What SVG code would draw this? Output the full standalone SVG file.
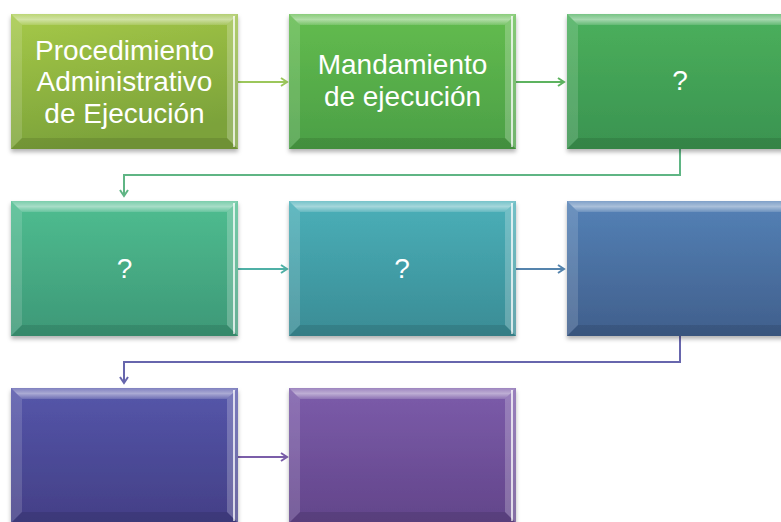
<svg xmlns="http://www.w3.org/2000/svg" width="781" height="522" viewBox="0 0 781 522">
<style>
.t{font-family:"Liberation Sans",Arial,sans-serif;font-size:28px;fill:#fff;text-anchor:middle}
.c{fill:none;stroke-width:2}
</style>
<defs>
<filter id="sh" x="-5%" y="-5%" width="110%" height="115%">
<feDropShadow dx="0" dy="3" stdDeviation="2" flood-color="#000" flood-opacity="0.3"/>
</filter>
<linearGradient id="g1" x1="0" y1="0" x2="0.3" y2="1"><stop offset="0" stop-color="#a6c948"/><stop offset="1" stop-color="#7ba23a"/></linearGradient>
<linearGradient id="g2" x1="0" y1="0" x2="0" y2="1"><stop offset="0" stop-color="#63bc4f"/><stop offset="1" stop-color="#4b9f45"/></linearGradient>
<linearGradient id="g3" x1="0" y1="0" x2="0" y2="1"><stop offset="0" stop-color="#4bb05c"/><stop offset="1" stop-color="#3a9350"/></linearGradient>
<linearGradient id="g4" x1="0" y1="0" x2="0" y2="1"><stop offset="0" stop-color="#4fbd90"/><stop offset="1" stop-color="#3d9877"/></linearGradient>
<linearGradient id="g5" x1="0" y1="0" x2="0" y2="1"><stop offset="0" stop-color="#4aafb8"/><stop offset="1" stop-color="#3a8c95"/></linearGradient>
<linearGradient id="g6" x1="0" y1="0" x2="0" y2="1"><stop offset="0" stop-color="#5481b6"/><stop offset="1" stop-color="#405f8c"/></linearGradient>
<linearGradient id="g7" x1="0" y1="0" x2="0" y2="1"><stop offset="0" stop-color="#5556aa"/><stop offset="1" stop-color="#433f86"/></linearGradient>
<linearGradient id="g8" x1="0" y1="0" x2="0" y2="1"><stop offset="0" stop-color="#7c5caa"/><stop offset="1" stop-color="#62458a"/></linearGradient>
<linearGradient id="bt" x1="0" y1="0" x2="0" y2="1"><stop offset="0" stop-color="#fff" stop-opacity="0.25"/><stop offset="0.5" stop-color="#fff" stop-opacity="0.5"/><stop offset="1" stop-color="#fff" stop-opacity="0.15"/></linearGradient>
<g id="bev">
<polygon points="0,0 227,0 216,11 11,11" fill="url(#bt)"/>
<polygon points="0,0 11,11 11,124 0,135" fill="#fff" fill-opacity="0.14"/>
<polygon points="227,0 227,135 216,124 216,11" fill="#fff" fill-opacity="0.22"/>
<rect x="222" y="2" width="2" height="131" fill="#fff" fill-opacity="0.75"/>
<polygon points="0,135 227,135 216,124 11,124" fill="#000" fill-opacity="0.1"/>
</g>
<marker id="m1" viewBox="0 0 10 10" refX="8" refY="5" markerWidth="10" markerHeight="10" markerUnits="userSpaceOnUse" orient="auto"><path d="M2,1 L8,5 L2,9" fill="none" stroke="#9cc75b" stroke-width="2"/></marker>
<marker id="m2" viewBox="0 0 10 10" refX="8" refY="5" markerWidth="10" markerHeight="10" markerUnits="userSpaceOnUse" orient="auto"><path d="M2,1 L8,5 L2,9" fill="none" stroke="#5db35f" stroke-width="2"/></marker>
<marker id="m3" viewBox="0 0 10 10" refX="8" refY="5" markerWidth="10" markerHeight="10" markerUnits="userSpaceOnUse" orient="auto"><path d="M2,1 L8,5 L2,9" fill="none" stroke="#5fb584" stroke-width="2"/></marker>
<marker id="m4" viewBox="0 0 10 10" refX="8" refY="5" markerWidth="10" markerHeight="10" markerUnits="userSpaceOnUse" orient="auto"><path d="M2,1 L8,5 L2,9" fill="none" stroke="#4fb0a6" stroke-width="2"/></marker>
<marker id="m5" viewBox="0 0 10 10" refX="8" refY="5" markerWidth="10" markerHeight="10" markerUnits="userSpaceOnUse" orient="auto"><path d="M2,1 L8,5 L2,9" fill="none" stroke="#5584ad" stroke-width="2"/></marker>
<marker id="m6" viewBox="0 0 10 10" refX="8" refY="5" markerWidth="10" markerHeight="10" markerUnits="userSpaceOnUse" orient="auto"><path d="M2,1 L8,5 L2,9" fill="none" stroke="#6766ad" stroke-width="2"/></marker>
<marker id="m7" viewBox="0 0 10 10" refX="8" refY="5" markerWidth="10" markerHeight="10" markerUnits="userSpaceOnUse" orient="auto"><path d="M2,1 L8,5 L2,9" fill="none" stroke="#7b5ea9" stroke-width="2"/></marker>
</defs>
<rect width="781" height="522" fill="#fff"/>
<g id="connectors">
<path class="c" d="M238,82 H287" stroke="#9cc75b" marker-end="url(#m1)"/>
<path class="c" d="M515,82 H564" stroke="#5db35f" marker-end="url(#m2)"/>
<path class="c" d="M680,149 V175 H124 V196" stroke="#5fb584" marker-end="url(#m3)"/>
<path class="c" d="M238,269 H287" stroke="#4fb0a6" marker-end="url(#m4)"/>
<path class="c" d="M515,269 H564" stroke="#5584ad" marker-end="url(#m5)"/>
<path class="c" d="M680,336 V362 H124 V383" stroke="#6766ad" marker-end="url(#m6)"/>
<path class="c" d="M238,457 H287" stroke="#7b5ea9" marker-end="url(#m7)"/>
</g>
<g id="n1" transform="translate(11,14)">
<rect width="227" height="135" fill="url(#g1)" filter="url(#sh)"/><use href="#bev"/>
<text class="t" x="113.5" y="45.5">Procedimiento</text>
<text class="t" x="113.5" y="77">Administrativo</text>
<text class="t" x="113.5" y="108.5">de Ejecución</text>
</g>
<g id="n2" transform="translate(289,14)">
<rect width="227" height="135" fill="url(#g2)" filter="url(#sh)"/><use href="#bev"/>
<text class="t" x="113.5" y="60">Mandamiento</text>
<text class="t" x="113.5" y="91.5">de ejecución</text>
</g>
<g id="n3" transform="translate(567,14)">
<rect width="227" height="135" fill="url(#g3)" filter="url(#sh)"/><use href="#bev"/>
<text class="t" x="113" y="76">?</text>
</g>
<g id="n4" transform="translate(11,201)">
<rect width="227" height="135" fill="url(#g4)" filter="url(#sh)"/><use href="#bev"/>
<text class="t" x="113.5" y="77">?</text>
</g>
<g id="n5" transform="translate(289,201)">
<rect width="227" height="135" fill="url(#g5)" filter="url(#sh)"/><use href="#bev"/>
<text class="t" x="113" y="77">?</text>
</g>
<g id="n6" transform="translate(567,201)">
<rect width="227" height="135" fill="url(#g6)" filter="url(#sh)"/><use href="#bev"/>
</g>
<g id="n7" transform="translate(11,388)">
<rect width="227" height="135" fill="url(#g7)" filter="url(#sh)"/><use href="#bev"/>
</g>
<g id="n8" transform="translate(289,388)">
<rect width="227" height="135" fill="url(#g8)" filter="url(#sh)"/><use href="#bev"/>
</g>
</svg>
